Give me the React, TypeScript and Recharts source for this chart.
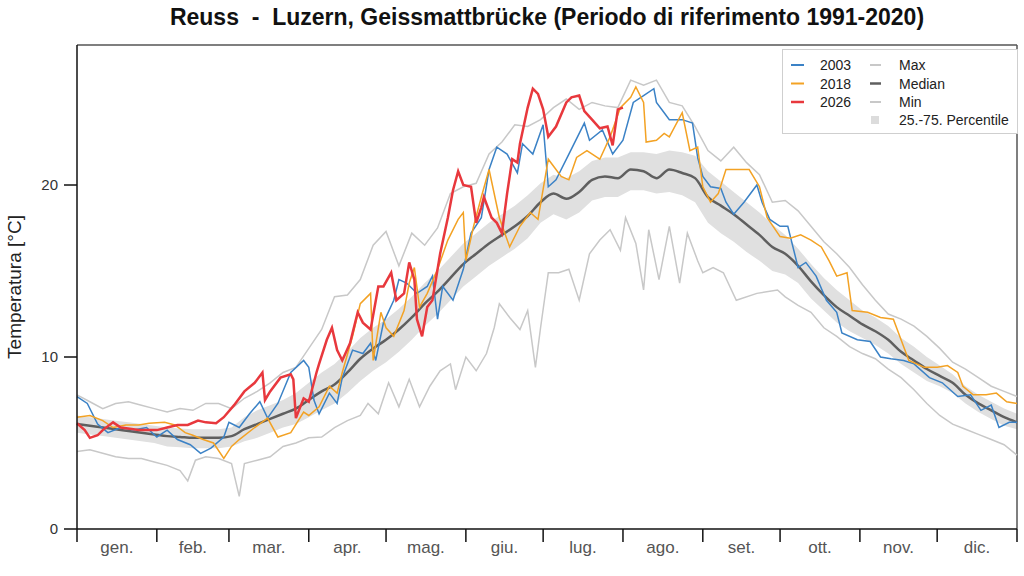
import React from 'react';
import { ComposedChart, Line, Area, XAxis, YAxis, ReferenceLine } from 'recharts';

// 5-day grid for the reference statistics (1991-2020)
const days = [0, 5, 10, 15, 20, 25, 30, 35, 40, 45, 50, 55, 60, 65, 70, 75, 80, 85, 90, 95, 100, 105, 110, 115, 120, 125, 130, 135, 140, 145, 150, 155, 160, 165, 170, 175, 180, 185, 190, 195, 200, 205, 210, 215, 220, 225, 230, 235, 240, 245, 250, 255, 260, 265, 270, 275, 280, 285, 290, 295, 300, 305, 310, 315, 320, 325, 330, 335, 340, 345, 350, 355, 360, 365];

const median = [6.1, 6.0, 5.9, 5.8, 5.7, 5.6, 5.5, 5.4, 5.35, 5.3, 5.3, 5.3, 5.4, 5.8, 6.1, 6.4, 6.7, 7.0, 7.5, 8.0, 8.4, 9.1, 9.9, 10.5, 11.0, 11.6, 12.3, 13.1, 13.8, 14.6, 15.4, 16.0, 16.6, 17.1, 17.6, 18.2, 19.0, 19.5, 19.2, 19.6, 20.3, 20.5, 20.4, 20.9, 20.8, 20.4, 20.9, 20.7, 20.4, 19.3, 18.8, 18.3, 17.7, 17.1, 16.4, 16.0, 15.3, 14.4, 13.6, 12.9, 12.4, 11.9, 11.5, 11.0, 10.3, 9.8, 9.3, 8.9, 8.5, 7.8, 7.3, 6.9, 6.5, 6.2];

const p75 = [6.6, 6.5, 6.4, 6.3, 6.2, 6.1, 6.0, 5.9, 5.85, 5.8, 5.8, 5.8, 5.9, 6.5, 6.9, 7.2, 7.5, 7.9, 8.5, 9.1, 9.6, 10.3, 11.1, 11.7, 12.2, 12.8, 13.5, 14.3, 15.0, 15.8, 16.6, 17.2, 17.8, 18.3, 18.8, 19.4, 20.1, 20.6, 20.4, 20.8, 21.4, 21.6, 21.6, 21.9, 21.9, 21.8, 22.0, 21.9, 21.7, 20.8, 20.2, 19.6, 19.0, 18.4, 17.7, 17.1, 16.3, 15.4, 14.6, 13.9, 13.3, 12.7, 12.3, 11.8, 11.1, 10.6, 10.0, 9.5, 9.0, 8.3, 7.8, 7.4, 7.0, 6.7];

const p25 = [5.6, 5.5, 5.4, 5.3, 5.2, 5.1, 5.0, 4.8, 4.75, 4.7, 4.7, 4.7, 4.8, 5.1, 5.3, 5.6, 5.9, 6.1, 6.5, 6.9, 7.3, 7.9, 8.6, 9.2, 9.7, 10.3, 11.0, 11.8, 12.5, 13.3, 14.1, 14.7, 15.3, 15.8, 16.3, 16.9, 17.8, 18.3, 18.0, 18.4, 19.1, 19.3, 19.3, 19.7, 19.7, 19.5, 19.6, 19.4, 19.0, 17.8, 17.2, 16.7, 16.1, 15.6, 15.0, 14.8, 14.3, 13.4, 12.7, 12.0, 11.5, 11.1, 10.7, 10.2, 9.6, 9.1, 8.6, 8.3, 7.9, 7.3, 6.8, 6.4, 6.0, 5.8];

const maxTemp = [7.8, 7.4, 7.0, 7.3, 7.4, 7.2, 7.0, 6.8, 7.0, 6.9, 7.3, 7.3, 7.0, 7.6, 8.0, 8.5, 9.1, 9.4, 10.5, 11.6, 13.5, 13.6, 14.5, 16.5, 17.3, 15.3, 17.2, 16.5, 17.5, 19.5, 19.9, 20.1, 21.8, 22.5, 23.5, 23.4, 23.8, 24.5, 25.0, 24.4, 24.8, 24.6, 24.5, 26.1, 25.8, 26.1, 24.8, 24.6, 23.4, 22.0, 21.4, 22.2, 21.3, 20.6, 19.0, 19.1, 18.5, 17.6, 16.7, 16.0, 15.2, 14.2, 13.3, 12.5, 12.2, 11.8, 11.2, 10.5, 9.7, 9.3, 8.8, 8.3, 8.0, 7.7];

// [day of year, °C]
const minTemp: [number, number][] = [
  [0, 4.5], [5, 4.6], [10, 4.4], [15, 4.2], [20, 4.1], [25, 4.1], [30, 3.9], [35, 3.7], [40, 3.4], [43, 2.8],
  [46, 4.0], [50, 4.2], [55, 4.1], [60, 3.8], [63, 1.9], [65, 3.8], [70, 4.0], [75, 4.2], [80, 4.8], [85, 5.0],
  [90, 5.3], [95, 5.35], [100, 5.9], [105, 6.3], [110, 6.6], [113, 7.3], [117, 6.7], [121, 8.5], [125, 7.1],
  [129, 8.7], [133, 7.1], [137, 8.3], [141, 9.2], [145, 9.6], [147, 8.1], [151, 10.0], [155, 9.2], [159, 10.2],
  [162, 11.7], [164, 13.1], [168, 12.3], [172, 11.6], [175, 12.7], [178, 9.4], [180, 11.7], [183, 14.9],
  [187, 14.9], [191, 15.1], [195, 13.3], [199, 16.0], [203, 16.8], [207, 17.4], [211, 16.2], [213, 18.1],
  [217, 16.6], [220, 13.9], [222, 17.4], [226, 14.5], [230, 17.6], [234, 14.3], [237, 17.2], [241, 15.6],
  [243, 14.9], [247, 15.2], [251, 14.9], [256, 13.3], [264, 13.7], [272, 13.9], [275, 13.5], [280, 13.0],
  [285, 12.6], [290, 11.7], [295, 11.2], [300, 10.6], [305, 10.2], [310, 9.9], [315, 9.3], [320, 8.8],
  [325, 8.1], [330, 7.3], [335, 6.6], [340, 6.1], [345, 5.8], [350, 5.5], [355, 5.2], [360, 4.9], [365, 4.3],
];

const y2003: [number, number][] = [
  [0, 7.7], [4, 7.3], [8, 6.1], [12, 5.6], [17, 5.9], [22, 5.75], [27, 5.9], [31, 5.35], [35, 5.75], [39, 5.2],
  [44, 4.9], [48, 4.4], [52, 4.7], [57, 5.35], [59, 6.2], [63, 5.9], [67, 6.7], [71, 7.4], [74, 6.45], [78, 7.3],
  [83, 9.1], [88, 9.8], [90, 9.4], [92, 7.5], [94, 6.7], [98, 7.9], [101, 7.3], [103, 8.8], [107, 10.4],
  [111, 10.2], [114, 10.8], [116, 9.8], [119, 12.0], [123, 13.3], [125, 14.5], [128, 14.3], [132, 13.7],
  [136, 14.1], [138, 14.7], [140, 12.2], [142, 14.1], [146, 13.3], [150, 15.1], [153, 17.2], [157, 18.1],
  [160, 20.9], [163, 22.2], [167, 21.8], [171, 20.7], [173, 22.4], [177, 21.8], [181, 23.5], [183, 19.9],
  [186, 20.3], [191, 21.8], [197, 23.6], [199, 22.6], [204, 23.2], [208, 21.8], [212, 22.6], [216, 24.8],
  [220, 25.2], [224, 25.6], [225, 24.8], [228, 24.2], [230, 23.8], [235, 23.8], [239, 23.6], [241, 21.6],
  [243, 20.5], [246, 19.9], [250, 19.8], [252, 19.0], [255, 18.3], [259, 19.0], [264, 20.0], [266, 19.0],
  [269, 18.0], [273, 17.6], [276, 17.6], [280, 15.2], [283, 15.5], [287, 14.7], [291, 13.3], [295, 12.6],
  [297, 11.4], [303, 11.0], [308, 10.9], [312, 10.0], [316, 9.9], [321, 9.8], [325, 9.6], [331, 8.8],
  [336, 8.5], [342, 7.7], [347, 7.8], [351, 6.9], [355, 7.2], [358, 5.9], [362, 6.2], [365, 6.2],
];

const y2018: [number, number][] = [
  [0, 6.5], [5, 6.6], [10, 6.3], [14, 5.9], [19, 6.05], [24, 6.05], [28, 6.15], [34, 6.2], [38, 6.05], [42, 5.6],
  [45, 5.45], [49, 5.2], [53, 5.0], [57, 4.1], [60, 4.8], [63, 5.2], [69, 5.9], [74, 6.45], [78, 5.35], [83, 5.6],
  [88, 6.8], [90, 6.6], [94, 7.1], [98, 8.3], [101, 7.9], [103, 9.1], [107, 11.2], [110, 13.1], [114, 13.7],
  [115, 9.8], [118, 12.6], [120, 11.7], [123, 11.2], [127, 12.7], [129, 14.3], [131, 15.2], [133, 12.9],
  [136, 13.7], [140, 15.1], [144, 16.8], [148, 18.0], [150, 18.4], [151, 15.6], [154, 17.6], [157, 19.3],
  [160, 20.9], [164, 18.1], [168, 16.4], [172, 17.6], [176, 18.4], [179, 18.0], [183, 21.5], [188, 20.5],
  [191, 20.3], [194, 21.6], [198, 22.0], [203, 21.5], [207, 22.8], [211, 24.5], [215, 25.1], [217, 25.7],
  [220, 24.8], [221, 22.5], [225, 22.6], [228, 23.0], [230, 22.8], [235, 24.2], [238, 22.0], [241, 22.2],
  [243, 19.9], [246, 19.0], [249, 19.5], [252, 20.9], [261, 20.9], [265, 19.9], [268, 18.1], [273, 17.0],
  [277, 16.9], [281, 17.1], [285, 16.8], [289, 16.4], [292, 15.6], [295, 14.7], [299, 14.9], [301, 12.7],
  [307, 12.6], [312, 12.3], [317, 12.2], [321, 10.6], [323, 9.8], [329, 9.4], [334, 9.4], [338, 9.5],
  [342, 9.1], [344, 8.3], [348, 7.8], [353, 7.8], [357, 7.9], [361, 7.4], [365, 7.3],
];

const y2026: [number, number][] = [
  [0, 6.15], [3, 5.75], [5, 5.3], [8, 5.45], [10, 5.75], [14, 6.2], [17, 5.9], [24, 5.75], [31, 5.75], [35, 5.9],
  [39, 6.05], [43, 6.05], [47, 6.3], [50, 6.2], [54, 6.15], [57, 6.5], [61, 7.2], [65, 8.0], [69, 8.5], [72, 9.1],
  [73, 7.5], [75, 8.0], [79, 8.8], [83, 9.0], [84, 8.7], [85, 6.45], [88, 7.6], [90, 7.4], [93, 9.1], [94, 9.6],
  [97, 11.0], [99, 11.7], [101, 10.4], [103, 9.8], [106, 10.8], [109, 12.6], [111, 12.0], [114, 11.6],
  [117, 14.1], [119, 14.1], [122, 14.9], [124, 13.3], [127, 13.7], [129, 15.5], [131, 14.5], [132, 12.2],
  [134, 11.2], [136, 12.9], [138, 13.3], [141, 16.0], [144, 18.1], [146, 19.7], [148, 20.8], [150, 20.0],
  [153, 19.9], [155, 17.8], [157, 18.7], [158, 19.3], [161, 18.1], [163, 17.8], [165, 17.2], [167, 19.5],
  [169, 21.5], [171, 21.3], [172, 22.4], [175, 24.5], [177, 25.6], [179, 25.3], [181, 24.4], [183, 22.8],
  [186, 23.4], [190, 24.8], [192, 25.1], [195, 25.2], [197, 24.3], [200, 23.8], [203, 23.3], [206, 23.4],
  [208, 22.3], [210, 24.4], [212, 24.5],
];

const monthStarts = [0, 31, 59, 90, 120, 151, 181, 212, 243, 273, 304, 334, 365];
const monthLabels = ['gen.', 'feb.', 'mar.', 'apr.', 'mag.', 'giu.', 'lug.', 'ago.', 'set.', 'ott.', 'nov.', 'dic.'];
const yTicks = [0, 10, 20];
const yMax = 28.14;

const FONT = '"Liberation Sans", Arial, sans-serif';

const grid = days.map((d, i) => ({ d, median: median[i], band: [p25[i], p75[i]], max: maxTemp[i] }));
const toPts = (arr: [number, number][]) => arr.map(([d, v]) => ({ d, v }));

const monthMids = monthLabels.map((_, i) => (monthStarts[i] + monthStarts[i + 1]) / 2);
const xTicks = [...monthStarts, ...monthMids].sort((a, b) => a - b);

const MonthTick = (props: any) => {
  const { x, y, payload } = props;
  const idx = monthStarts.indexOf(payload.value);
  if (idx >= 0) {
    return <line x1={x} x2={x} y1={y} y2={y + 13} stroke="#111" strokeWidth={1.5} />;
  }
  const m = monthMids.indexOf(payload.value);
  return (
    <text x={x} y={y + 24} textAnchor="middle" fontSize={17} fill="#555" fontFamily={FONT}>
      {monthLabels[m]}
    </text>
  );
};

const legendRows = [
  { left: { label: '2003', color: '#3b82c6', w: 2 }, right: { label: 'Max', color: '#c8c8c8', w: 2 } },
  { left: { label: '2018', color: '#f3a224', w: 2 }, right: { label: 'Median', color: '#5f5f5f', w: 2.5 } },
  { left: { label: '2026', color: '#e8383d', w: 2.5 }, right: { label: 'Min', color: '#c8c8c8', w: 2 } },
];

const ChartLegend = () => (
  <div style={{ position: 'absolute', left: 782, top: 49, width: 234, height: 83, border: '1px solid #cfcfcf', background: '#fff' }}>
    <svg width={234} height={83} style={{ display: 'block' }}>
      {legendRows.map((r, i) => {
        const cy = 15 + i * 18.5;
        return (
          <g key={i}>
            <line x1={8} x2={21} y1={cy} y2={cy} stroke={r.left.color} strokeWidth={r.left.w} />
            <text x={37} y={cy + 5} fontSize={14} fill="#222" fontFamily={FONT}>{r.left.label}</text>
            <line x1={87} x2={98} y1={cy} y2={cy} stroke={r.right.color} strokeWidth={r.right.w} />
            <text x={116} y={cy + 5} fontSize={14} fill="#222" fontFamily={FONT}>{r.right.label}</text>
          </g>
        );
      })}
      <rect x={88} y={66} width={8} height={8} fill="#dcdcdc" />
      <text x={116} y={75} fontSize={14} fill="#222" fontFamily={FONT}>25.-75. Percentile</text>
    </svg>
  </div>
);

export default function App() {
  return (
    <div style={{ position: 'absolute', left: 0, top: 0, width: 1024, height: 576, background: '#fff', fontFamily: FONT }}>
      <div style={{ position: 'absolute', left: 77, top: 3, width: 940, textAlign: 'center', fontSize: 23, fontWeight: 'bold', whiteSpace: 'pre', color: '#111', lineHeight: '28px' }}>
        {'Reuss  -  Luzern, Geissmattbrücke (Periodo di riferimento 1991-2020)'}
      </div>
      <ComposedChart width={1024} height={576} data={grid} margin={{ top: 45, right: 7, bottom: 17, left: 15 }}>
        <XAxis
          dataKey="d"
          type="number"
          domain={[0, 365]}
          ticks={xTicks}
          interval={0}
          tick={<MonthTick />}
          tickLine={false}
          tickSize={0}
          tickMargin={0}
          height={30}
          axisLine={{ stroke: '#111', strokeWidth: 1.5 }}
          allowDuplicatedCategory={false}
        />
        <YAxis
          type="number"
          domain={[0, yMax]}
          ticks={yTicks}
          width={62}
          tickSize={13}
          tickMargin={6}
          axisLine={{ stroke: '#111', strokeWidth: 1.5 }}
          tickLine={{ stroke: '#111', strokeWidth: 1.5 }}
          tick={{ fontSize: 15, fill: '#333', fontFamily: FONT }}
          label={{
            content: (p: any) => {
              const vb = p.viewBox || { x: 15, y: 45, height: 484 };
              const cx = 14;
              const cy = vb.y + vb.height / 2;
              return (
                <text x={cx} y={cy} transform={`rotate(-90 ${cx} ${cy})`} textAnchor="middle" dominantBaseline="central" fontSize={19} fill="#222" fontFamily={FONT}>
                  Temperatura [°C]
                </text>
              );
            },
          }}
        />
        <ReferenceLine y={yMax} stroke="#555" strokeWidth={1.5} />
        <ReferenceLine x={365} stroke="#555" strokeWidth={1.5} />

        <Area dataKey="band" stroke="none" fill="#e0e0e0" fillOpacity={1} isAnimationActive={false} type="linear" />
        <Line dataKey="max" stroke="#c8c8c8" strokeWidth={1.5} dot={false} isAnimationActive={false} type="linear" />
        <Line data={toPts(minTemp)} dataKey="v" stroke="#c8c8c8" strokeWidth={1.5} dot={false} isAnimationActive={false} type="linear" />
        <Line dataKey="median" stroke="#5f5f5f" strokeWidth={2.5} dot={false} isAnimationActive={false} type="monotone" />
        <Line data={toPts(y2003)} dataKey="v" stroke="#3b82c6" strokeWidth={1.5} dot={false} isAnimationActive={false} type="linear" />
        <Line data={toPts(y2018)} dataKey="v" stroke="#f3a224" strokeWidth={1.5} dot={false} isAnimationActive={false} type="linear" />
        <Line data={toPts(y2026)} dataKey="v" stroke="#e8383d" strokeWidth={2.5} dot={false} isAnimationActive={false} type="linear" />
      </ComposedChart>
      <ChartLegend />
    </div>
  );
}
